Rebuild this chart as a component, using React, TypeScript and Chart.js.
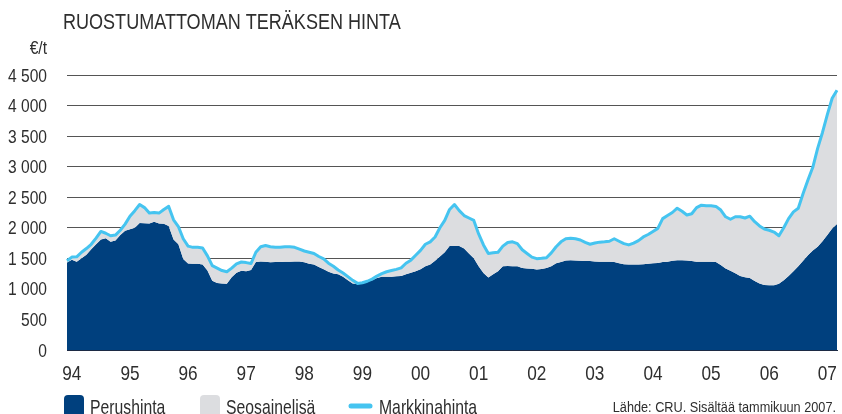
import React, { useEffect, useRef } from "react";
import { Chart, registerables } from "chart.js";

Chart.register(...registerables);

const FONT = '"Liberation Sans", Arial, Roboto, sans-serif';
const NARROW = 0.82; // horizontal compression to emulate a condensed face
const LEGEND_NARROW = 0.75;

const TITLE = "RUOSTUMATTOMAN TERÄKSEN HINTA";
const UNIT = "€/t";
const SOURCE = "Lähde: CRU. Sisältää tammikuun 2007.";
const SERIES_NAMES = ["Perushinta", "Seosainelisä", "Markkinahinta"];
const YEAR_LABELS = ["94", "95", "96", "97", "98", "99", "00", "01", "02", "03", "04", "05", "06", "07"];

// Monthly values, €/t
const perushinta = [
  1430, 1475, 1445, 1500, 1560, 1650, 1730, 1810, 1830, 1770, 1790, 1880,
  1950, 1975, 2000, 2080, 2075, 2070, 2100, 2070, 2065, 2030, 1810, 1730,
  1490, 1415, 1410, 1410, 1400, 1300, 1135, 1095, 1090, 1085, 1190, 1265,
  1295, 1290, 1310, 1440, 1450, 1445, 1435, 1440, 1440, 1445, 1445, 1450,
  1450, 1435, 1410, 1400, 1360, 1320, 1280, 1250, 1240, 1200, 1140, 1090,
  1080, 1100, 1120, 1140, 1180, 1200, 1200, 1200, 1205, 1210, 1240, 1265,
  1290, 1320, 1370, 1400, 1460, 1530, 1600, 1700, 1700, 1700, 1660, 1580,
  1500, 1370, 1260, 1185, 1240, 1290, 1370, 1375, 1370, 1370, 1340, 1335,
  1330, 1318, 1325, 1340, 1370, 1420, 1440, 1465, 1470, 1465, 1460, 1455,
  1455, 1450, 1445, 1445, 1445, 1440, 1420, 1405, 1400, 1400, 1400, 1405,
  1410, 1420, 1425, 1440, 1445, 1460, 1470, 1470, 1465, 1455, 1445, 1445,
  1445, 1445, 1440, 1390, 1335, 1295, 1255, 1210, 1190, 1180, 1130, 1090,
  1065, 1060, 1060, 1085, 1140, 1210, 1290, 1370, 1460, 1550, 1630, 1690,
  1780, 1880, 1990, 2060,
];

const markkinahinta = [
  1460, 1520, 1525, 1600, 1660, 1730, 1830, 1940, 1910, 1870, 1880, 1960,
  2060, 2190, 2280, 2380, 2330, 2240, 2250, 2240, 2300, 2350, 2130, 2020,
  1820, 1700, 1680, 1680, 1670, 1540, 1380, 1340, 1300, 1280, 1340, 1410,
  1440, 1430, 1415, 1600, 1690, 1710, 1690, 1680, 1680, 1690, 1690, 1680,
  1650, 1620, 1600, 1580, 1530, 1490, 1420, 1370, 1310, 1260, 1200, 1140,
  1090, 1100, 1125, 1160, 1210, 1250, 1280, 1300, 1320, 1345, 1420, 1470,
  1550, 1630, 1730, 1770, 1850, 2000, 2120, 2300, 2380, 2280, 2200, 2160,
  2120, 1900, 1720, 1580, 1590, 1600, 1700, 1760, 1770, 1740, 1640, 1580,
  1520, 1495, 1500, 1510, 1590, 1690, 1770, 1820, 1830, 1820, 1800, 1760,
  1730, 1750, 1765, 1770, 1780, 1820, 1780, 1740, 1720, 1750, 1790, 1850,
  1890, 1940, 1990, 2150, 2200, 2250, 2320, 2270, 2210, 2230, 2330, 2370,
  2360, 2360, 2350, 2290, 2180, 2140, 2180, 2180, 2160, 2190, 2100, 2030,
  1980, 1960, 1930, 1870, 2000, 2150, 2260, 2320, 2560, 2780, 2990, 3300,
  3560, 3850, 4120, 4250,
];

const Y_MIN = 0;
const Y_MAX = 4500;
const Y_STEP = 500;

const DARK_BLUE = "#00407e";
const GREY = "#dcdde0";
const LIGHT_BLUE = "#45c4f0";
const TEXT = "#2e2e2e";

function buildLabels(): string[] {
  const labels: string[] = [];
  for (let i = 0; i < perushinta.length; i++) {
    const k = (i - 1) / 12;
    labels.push(Number.isInteger(k) && k >= 0 && k < YEAR_LABELS.length ? YEAR_LABELS[k] : "");
  }
  return labels;
}
const LABELS = buildLabels();

function fmt(v: number): string {
  return String(v).replace(/\B(?=(\d{3})+(?!\d))/g, " ");
}

function narrowText(
  ctx: CanvasRenderingContext2D,
  text: string,
  x: number,
  y: number,
  size: number,
  align: CanvasTextAlign,
  squeeze: number = NARROW
) {
  ctx.save();
  ctx.font = `${size}px ${FONT}`;
  ctx.textAlign = align;
  ctx.textBaseline = "alphabetic";
  ctx.translate(x, y);
  ctx.scale(squeeze, 1);
  ctx.fillText(text, 0, 0);
  ctx.restore();
}

const decorPlugin = {
  id: "decor",
  afterDraw(chart: any) {
    const ctx = chart.ctx as CanvasRenderingContext2D;
    ctx.save();
    ctx.fillStyle = TEXT;

    // Axis tick labels, positioned by the chart's own scales
    const ys = chart.scales.y;
    ys.ticks.forEach((t: any) => {
      const py = ys.getPixelForValue(t.value);
      narrowText(ctx, fmt(Number(t.value)), 47, py + 6.5, 19, "right");
    });
    const xs = chart.scales.x;
    xs.ticks.forEach((t: any, i: number) => {
      const lbl = LABELS[t.value ?? i];
      if (!lbl) return;
      const px = xs.getPixelForTick(i);
      narrowText(ctx, lbl, px, 380, 21, "center");
    });

    // Title, unit, source
    narrowText(ctx, TITLE, 63, 29, 22, "left");
    narrowText(ctx, UNIT, 47, 54, 19, "right");
    narrowText(ctx, SOURCE, 836, 412, 15.5, "right");

    // Legend
    const legendY = 414;
    ctx.fillStyle = DARK_BLUE;
    ctx.beginPath();
    (ctx as any).roundRect(64, 395, 20, 22, 4);
    ctx.fill();
    ctx.fillStyle = TEXT;
    narrowText(ctx, SERIES_NAMES[0], 90, legendY, 21, "left", LEGEND_NARROW);

    ctx.fillStyle = GREY;
    ctx.beginPath();
    (ctx as any).roundRect(200, 395, 20, 22, 4);
    ctx.fill();
    ctx.fillStyle = TEXT;
    narrowText(ctx, SERIES_NAMES[1], 226, legendY, 21, "left", LEGEND_NARROW);

    ctx.strokeStyle = LIGHT_BLUE;
    ctx.lineWidth = 5;
    ctx.lineCap = "round";
    ctx.beginPath();
    ctx.moveTo(351, 406);
    ctx.lineTo(370, 406);
    ctx.stroke();
    ctx.fillStyle = TEXT;
    narrowText(ctx, SERIES_NAMES[2], 379, legendY, 21, "left", LEGEND_NARROW);
    ctx.restore();
  },
};

export default function App() {
  const ref = useRef<HTMLCanvasElement | null>(null);

  useEffect(() => {
    document.body.style.margin = "0";
    const canvas = ref.current;
    if (!canvas) return;
    const chart = new Chart(canvas, {
      type: "line",
      data: {
        labels: LABELS,
        datasets: [
          {
            label: SERIES_NAMES[0],
            data: perushinta,
            fill: "origin",
            backgroundColor: DARK_BLUE,
            borderWidth: 0,
            borderColor: DARK_BLUE,
            pointRadius: 0,
            tension: 0,
            order: 2,
          },
          {
            label: SERIES_NAMES[1],
            data: markkinahinta,
            fill: "-1",
            backgroundColor: GREY,
            borderWidth: 0,
            borderColor: GREY,
            pointRadius: 0,
            tension: 0,
            order: 1,
          },
          {
            label: SERIES_NAMES[2],
            data: markkinahinta,
            fill: false,
            borderColor: LIGHT_BLUE,
            borderWidth: 3,
            pointRadius: 0,
            tension: 0,
            borderJoinStyle: "round",
            order: 0,
          },
        ],
      },
      options: {
        responsive: false,
        animation: false,
        devicePixelRatio: 1,
        layout: { padding: { left: 0, right: 0, top: 75, bottom: 34 } },
        plugins: {
          legend: { display: false },
          tooltip: { enabled: false },
          title: { display: false },
        },
        scales: {
          x: {
            offset: false,
            grid: { display: false, drawTicks: false },
            border: { display: true, color: "#1c2a44", width: 1 },
            ticks: {
              autoSkip: false,
              maxRotation: 0,
              color: "rgba(0,0,0,0)",
              font: { family: FONT, size: 21 },
              callback: (_v: any, i: number) => LABELS[i] || null,
            },
            afterFit: (scale: any) => {
              scale.height = 30;
            },
          },
          y: {
            min: Y_MIN,
            max: Y_MAX,
            grid: { color: "#555555", lineWidth: 1, drawTicks: false },
            border: { display: false },
            ticks: {
              stepSize: Y_STEP,
              padding: 20,
              color: "rgba(0,0,0,0)",
              font: { family: FONT, size: 19 },
              callback: (v: any) => fmt(Number(v)),
            },
            afterFit: (scale: any) => {
              scale.width = 67;
            },
          },
        },
      },
      plugins: [decorPlugin],
    });
    return () => chart.destroy();
  }, []);

  return (
    <div style={{ width: 842, height: 414, position: "relative" }}>
      <canvas ref={ref} width={842} height={414} style={{ display: "block" }} />
    </div>
  );
}
